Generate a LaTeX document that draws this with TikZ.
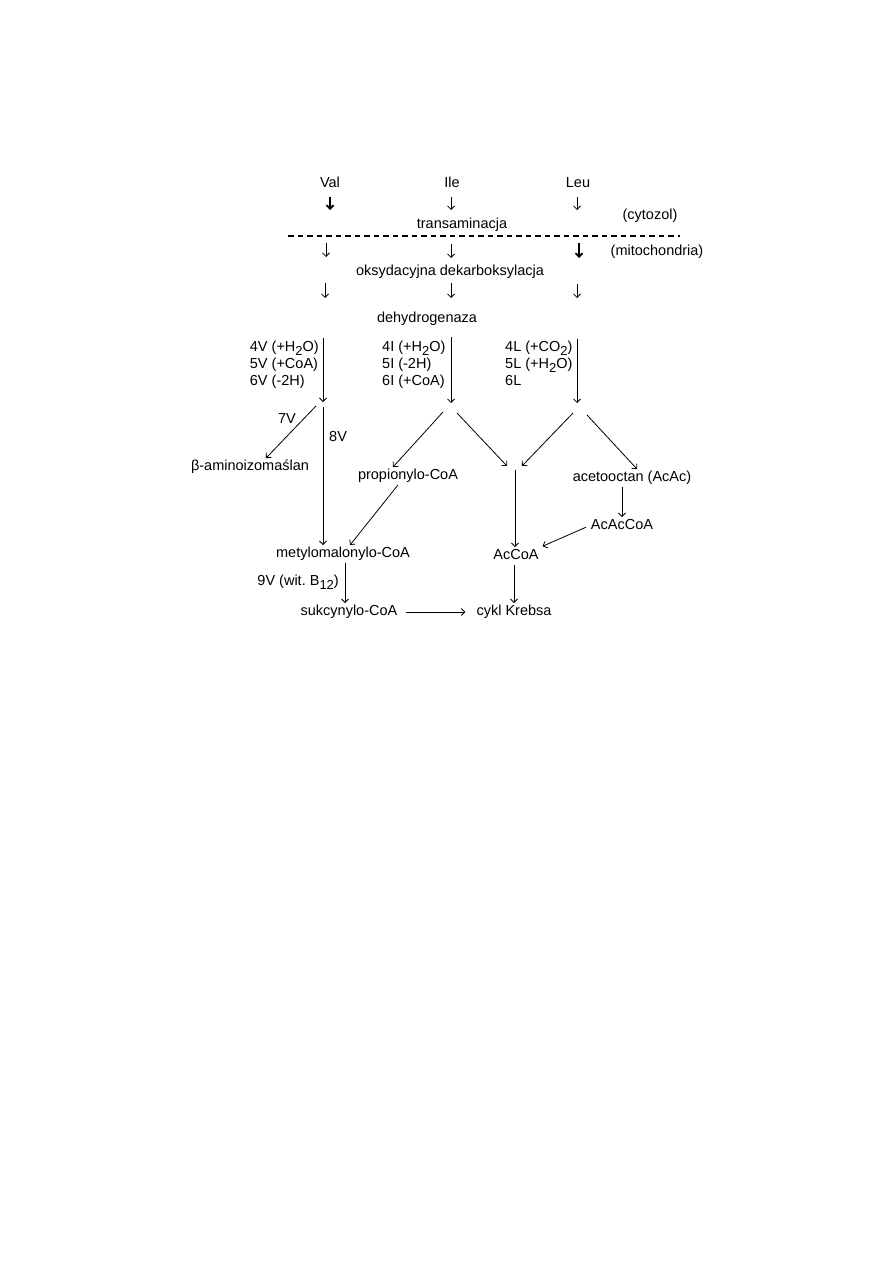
\documentclass[tikz,border=0pt]{standalone}
\usepackage{fontspec}
\setmainfont{Liberation Sans}
\usetikzlibrary{arrows.meta}
\newcommand{\sbs}[1]{\raisebox{-0.5ex}{\fontsize{13}{13}\selectfont #1}}

\begin{document}
\begin{tikzpicture}[x=1pt,y=-1pt,
  lbl/.style={font=\fontsize{14.5}{17}\selectfont, inner sep=2pt,
    text height=10.5pt, text depth=3pt},
  steps/.style={font=\fontsize{14.5}{17}\selectfont, inner sep=2pt, align=left},
  arr/.style={-{Straight Barb[length=3.5pt,width=7pt]}, line width=0.8pt},
  fat arr/.style={arr, line width=1.8pt},
  membrane/.style={line width=1.8pt, dash pattern=on 5.5pt off 4pt}]
  \useasboundingbox (0,0) rectangle (893,1263);
  \coordinate (vtop) at (323,338);
  \coordinate (vfork) at (323,402);
  \coordinate (v8) at (323,407);
  \coordinate (v7) at (316,406);
  \coordinate (itop) at (451,337);
  \coordinate (ifork) at (451,403);
  \coordinate (ltop) at (577,339);
  \coordinate (lfork) at (577,403);
  \coordinate (acin) at (515,466);

  \node[lbl] (val) at (330,184) {Val};
  \node[lbl] (ile) at (452,184) {Ile};
  \node[lbl] (leu) at (578,184) {Leu};
  \node[lbl] (trans) at (462,225) {transaminacja};
  \node[lbl] (cyto) at (650,216) {(cytozol)};
  \node[lbl] (mito) at (657,252) {(mitochondria)};
  \node[lbl] (oksy) at (450,272) {oksydacyjna dekarboksylacja};
  \node[lbl] (dehy) at (427,319) {dehydrogenaza};
  \node[steps,anchor=north east] (vsteps) at (321,339)
    {4V (+H\sbs{2}O)\\5V (+CoA)\\6V (-2H)};
  \node[steps,anchor=north west] (isteps) at (380,339)
    {4I (+H\sbs{2}O)\\5I (-2H)\\6I (+CoA)};
  \node[steps,anchor=north west] (lsteps) at (503,339)
    {4L (+CO\sbs{2})\\5L (+H\sbs{2}O)\\6L};
  \node[lbl] (v7lab) at (287,420) {7V};
  \node[lbl,anchor=west] (v8lab) at (327,438) {8V};
  \node[lbl] (bamin) at (250,467) {β-aminoizomaślan};
  \node[lbl] (prop) at (408,476) {propionylo-CoA};
  \node[lbl] (acac) at (632,478) {acetooctan (AcAc)};
  \node[lbl] (acacoa) at (622,526) {AcAcCoA};
  \node[lbl] (metyl) at (343,554) {metylomalonylo-CoA};
  \node[lbl] (accoa) at (516,556) {AcCoA};
  \node[steps,anchor=east] (v9lab) at (341,582) {9V (wit.\ B\sbs{12})};
  \node[lbl] (sukc) at (349,612) {sukcynylo-CoA};
  \node[lbl] (krebs) at (514,612) {cykl Krebsa};

  \draw[membrane] (288,236) -- (680,236);
  \draw[fat arr] (330,197) -- (330,210);
  \draw[arr] (451,197) -- (451,210);
  \draw[arr] (577,197) -- (577,210);
  \draw[arr] (326,243) -- (326,257);
  \draw[arr] (451,244) -- (451,258);
  \draw[fat arr] (579,243) -- (579,258);
  \draw[arr] (325,283) -- (325,298);
  \draw[arr] (451,283) -- (451,298);
  \draw[arr] (577,284) -- (577,298);

  \draw[arr] (vtop) -- (vfork);
  \draw[arr] (itop) -- (ifork);
  \draw[arr] (ltop) -- (lfork);
  \draw[arr] (v7) -- ([xshift=16pt]bamin.north);
  \draw[arr] (v8) -- (v8 |- metyl.north);
  \draw[arr] ([shift={(-8pt,-9pt)}]ifork) -- ([xshift=-15pt]prop.north);
  \draw[arr] ([shift={(6pt,-10pt)}]ifork) -- ([xshift=-8pt]acin);
  \draw[arr] ([shift={(-4pt,-10pt)}]lfork) -- ([xshift=7pt]acin);
  \draw[arr] ([shift={(10pt,-12pt)}]lfork) -- ([xshift=5pt]acac.north);
  \draw[arr] ([yshift=-4pt]acin) -- (acin |- accoa.north);
  \draw[arr] ([xshift=-10pt]prop.south) -- ([xshift=7pt]metyl.north);
  \draw[arr] (acac.south -| acacoa) -- (acacoa.north);
  \draw[arr,shorten <=3pt,shorten >=2pt] (acacoa.west) -- (accoa.north east);
  \draw[arr] ([xshift=2pt]metyl.south) -- ([xshift=-4pt]sukc.north);
  \draw[arr] ([xshift=-2pt]accoa.south) -- (krebs.north);
  \draw[arr,shorten <=6pt,shorten >=9pt] (sukc) -- (krebs);
\end{tikzpicture}
\end{document}
